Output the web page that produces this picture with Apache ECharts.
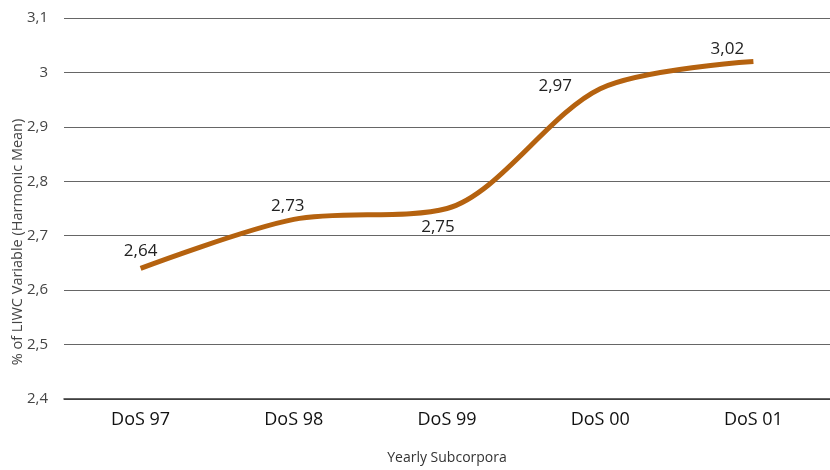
<!DOCTYPE html>
<html><head><meta charset="utf-8">
<script src="https://cdn.jsdelivr.net/npm/echarts@6/dist/echarts.min.js"></script>
<style>html,body{margin:0;padding:0;background:#fff}#c{width:830px;height:470px}</style>
</head><body><div id="c"></div>
<script>
const categories = ['DoS 97','DoS 98','DoS 99','DoS 00','DoS 01'];
const values = [2.64, 2.73, 2.75, 2.97, 3.02];
const yTitle = '% of LIWC Variable (Harmonic Mean)';
const xTitle = 'Yearly Subcorpora';

const fmt = v => String(v).replace('.', ',');
const font = '"Open Sans", "Noto Sans", sans-serif';
// label offsets from each point (layout only)
const labelOffsets = [[0, -17], [-6, -13], [-9, 19], [-45, -3], [-26, -12]];
const chart = echarts.init(document.getElementById('c'));
chart.setOption({
  animation: false,
  grid: {left: 64, right: -11, top: 18, bottom: 70, containLabel: false},
  graphic: [{
    type: 'text', x: 18, y: 242, rotation: Math.PI / 2,
    style: {text: yTitle, fill: '#444', font: '14.5px ' + font, align: 'center', verticalAlign: 'middle'}
  }],
  xAxis: {
    type: 'category', data: categories, boundaryGap: true,
    axisLine: {show: true, lineStyle: {color: '#333', width: 1.5}},
    axisTick: {show: false},
    axisLabel: {color: '#111', fontFamily: font, fontSize: 18, fontWeight: 500, margin: 12},
    name: xTitle, nameLocation: 'middle', nameGap: 52,
    nameTextStyle: {color: '#333', fontFamily: font, fontSize: 14}
  },
  yAxis: {
    type: 'value', min: 2.4, max: 3.1, interval: 0.1,
    axisLine: {show: false}, axisTick: {show: false},
    splitLine: {lineStyle: {color: '#666', width: 1}},
    axisLabel: {color: '#444', fontFamily: font, fontSize: 15, margin: 16,
      formatter: v => fmt(Math.round(v * 10) / 10)}
  },
  series: [{
    type: 'line', smooth: 0.3, symbol: 'circle', symbolSize: 1, showSymbol: true,
    itemStyle: {color: 'rgba(0,0,0,0)'},
    lineStyle: {color: '#B5620F', width: 5},
    data: values.map((v, i) => ({
      value: v,
      label: {show: true, position: 'inside', offset: labelOffsets[i]}
    })),
    label: {show: true, color: '#222', fontFamily: font, fontSize: 17, fontWeight: 500, formatter: p => fmt(p.value)}
  }]
});
</script></body></html>
